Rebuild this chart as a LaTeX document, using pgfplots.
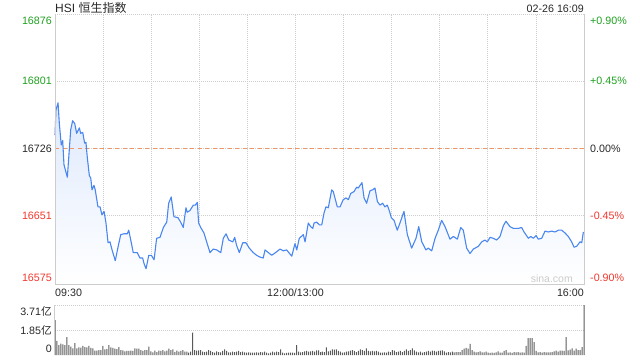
\documentclass[border=0pt]{standalone}
\usepackage{pgfplots}
\pgfplotsset{compat=1.18}
\usepackage{pgfplotstable}
\usepackage{fontspec}
\setmainfont{Liberation Sans}
\newfontfamily\cjk{Noto Sans CJK SC}
\definecolor{upg}{RGB}{30,160,30}
\definecolor{dnr}{RGB}{240,55,45}
\definecolor{txt}{RGB}{40,40,40}
\definecolor{gridc}{RGB}{205,205,205}
\definecolor{axc}{RGB}{205,205,205}
\definecolor{linec}{RGB}{74,134,240}
\definecolor{fillc}{RGB}{222,233,252}
\definecolor{zeroc}{RGB}{240,150,100}
\definecolor{volc}{RGB}{90,90,90}

\pgfplotstableread[row sep=\\]{m p\\
0 16741\\0.6 16769\\1.9 16777\\2.7 16754\\3.9 16730\\4.8 16735\\5.6 16708\\7.7 16694\\9.8 16747\\11.0 16757\\12.3 16754\\13.5 16743\\15.2 16749\\16.0 16743\\17.3 16744\\18.5 16732\\19.3 16733\\20.1 16717\\21.4 16696\\22.3 16693\\23.1 16680\\24.3 16685\\25.1 16680\\26.8 16661\\28.1 16661\\29.3 16652\\30.6 16656\\31.8 16643\\33.1 16621\\34.3 16622\\35.6 16613\\37.6 16601\\39.3 16616\\41.0 16630\\43.0 16631\\45.1 16631\\46.0 16635\\47.6 16621\\48.8 16610\\51.3 16610\\53.0 16604\\54.7 16604\\55.5 16598\\56.8 16592\\58.5 16607\\60.1 16607\\61.8 16602\\63.4 16626\\65.5 16627\\67.6 16638\\69.7 16644\\70.9 16665\\72.5 16672\\74.2 16650\\76.7 16649\\78.4 16644\\80.0 16638\\81.7 16660\\82.5 16655\\84.2 16657\\86.3 16663\\87.5 16663\\88.8 16666\\89.6 16643\\90.9 16638\\92.9 16632\\94.6 16622\\96.7 16610\\98.7 16614\\100.9 16613\\103.4 16610\\105.0 16626\\106.7 16631\\108.4 16624\\110.9 16622\\112.1 16627\\113.3 16618\\115.0 16610\\117.1 16621\\119.1 16621\\121.2 16615\\123.7 16610\\125.8 16607\\127.9 16605\\129.9 16604\\131.0 16613\\133.1 16610\\135.2 16607\\138.3 16611\\140.4 16614\\142.4 16612\\144.5 16613\\147.7 16606\\148.7 16613\\149.7 16620\\150.8 16613\\152.4 16626\\154.9 16630\\156.0 16622\\158.0 16643\\159.5 16639\\160.8 16637\\161.6 16643\\163.2 16644\\164.9 16641\\166.4 16641\\167.8 16654\\169.0 16661\\170.5 16660\\172.6 16680\\173.6 16678\\176.1 16661\\177.8 16661\\179.8 16669\\181.5 16671\\183.0 16669\\184.5 16676\\186.5 16678\\188.2 16683\\189.2 16682\\190.3 16685\\191.5 16688\\192.8 16671\\194.4 16665\\196.5 16679\\198.2 16680\\199.6 16682\\201.1 16667\\202.7 16663\\204.4 16665\\205.8 16661\\207.3 16663\\208.5 16657\\209.8 16649\\211.5 16646\\213.5 16635\\215.2 16643\\217.7 16656\\219.8 16630\\222.5 16615\\225.2 16626\\226.9 16639\\228.8 16622\\231.4 16613\\232.8 16615\\235.0 16612\\237.1 16626\\239.1 16635\\241.2 16646\\243.3 16639\\246.4 16625\\248.5 16628\\251.0 16625\\253.1 16638\\254.7 16635\\256.8 16615\\258.9 16609\\261.0 16614\\264.1 16617\\266.2 16622\\268.2 16624\\269.7 16622\\271.4 16627\\273.4 16626\\275.5 16624\\277.6 16628\\279.7 16640\\281.3 16645\\283.8 16639\\285.9 16637\\289.0 16637\\291.1 16638\\292.6 16633\\295.3 16626\\296.8 16628\\298.4 16626\\300.1 16629\\301.5 16625\\303.6 16626\\305.7 16634\\307.7 16633\\309.8 16634\\311.9 16633\\314.0 16635\\316.1 16635\\318.1 16632\\320.2 16628\\322.3 16622\\323.8 16616\\325.4 16617\\327.5 16622\\328.6 16621\\329.6 16633\\
}\pricetable

\pgfplotstableread[row sep=\\]{v\\
2.59\\1.04\\0.74\\0.84\\0.79\\0.74\\1.33\\0.74\\0.62\\0.49\\0.89\\0.49\\0.57\\0.54\\0.67\\0.59\\0.57\\0.67\\0.52\\0.49\\0.32\\0.32\\0.37\\0.37\\0.67\\0.42\\0.44\\0.74\\0.57\\0.52\\0.47\\0.44\\0.59\\0.37\\0.35\\0.27\\0.30\\0.30\\0.32\\0.30\\0.49\\0.47\\0.47\\0.37\\0.30\\0.37\\0.37\\0.62\\0.27\\0.20\\0.32\\0.22\\0.32\\0.30\\0.37\\0.27\\0.32\\0.47\\0.37\\0.42\\0.22\\0.32\\0.25\\0.30\\0.37\\0.25\\0.25\\
0.17\\0.25\\1.66\\0.37\\0.32\\0.35\\0.37\\0.25\\0.22\\0.25\\0.37\\0.30\\0.22\\0.17\\0.27\\0.22\\0.20\\0.30\\0.42\\0.30\\0.20\\0.20\\0.25\\0.22\\0.25\\0.30\\0.22\\0.25\\0.20\\0.17\\0.20\\0.17\\0.17\\0.17\\0.20\\0.17\\0.22\\0.20\\0.25\\0.17\\0.12\\0.17\\0.25\\0.20\\0.25\\0.22\\0.42\\0.17\\0.12\\0.15\\0.17\\0.17\\0.17\\0.15\\0.74\\0.25\\0.20\\0.22\\0.27\\0.30\\0.25\\0.27\\0.30\\0.25\\0.35\\0.35\\0.22\\0.25\\
0.22\\0.57\\0.27\\0.32\\0.42\\0.40\\0.42\\0.30\\0.25\\0.17\\0.20\\0.25\\0.27\\0.32\\0.37\\0.30\\0.22\\0.30\\0.42\\0.37\\0.30\\0.49\\0.30\\0.27\\0.30\\0.27\\0.30\\0.25\\0.17\\0.17\\0.20\\0.17\\0.25\\0.22\\0.37\\0.32\\0.22\\0.25\\0.30\\0.22\\0.30\\0.42\\0.30\\0.37\\0.49\\0.35\\0.25\\0.20\\0.25\\0.17\\0.22\\0.25\\0.30\\0.25\\0.32\\0.30\\0.25\\0.30\\0.32\\0.35\\0.27\\0.17\\0.22\\0.20\\0.25\\0.20\\0.22\\0.22\\
0.22\\0.37\\0.47\\0.52\\0.47\\0.82\\0.37\\0.25\\0.20\\0.22\\0.27\\0.20\\0.20\\0.25\\0.17\\0.15\\0.17\\0.15\\0.20\\0.27\\0.17\\0.17\\0.30\\0.37\\0.17\\0.20\\0.15\\0.22\\0.20\\0.22\\0.17\\0.20\\0.17\\0.67\\1.26\\1.26\\1.26\\0.96\\0.30\\0.20\\0.22\\0.17\\0.22\\0.20\\0.20\\0.20\\0.22\\0.27\\0.32\\0.25\\0.32\\0.32\\0.30\\1.33\\0.35\\0.40\\0.49\\0.32\\0.47\\0.37\\0.37\\0.59\\3.71\\
}\voltable

\begin{document}
\begin{tikzpicture}
\useasboundingbox (0,0) rectangle (640bp,-360bp);
\tikzset{lab/.style={font=\fontsize{10.7bp}{12bp}\selectfont, inner sep=0pt}}
% title and date
\node[anchor=base west, inner sep=0pt, text=txt, font=\fontsize{12bp}{13bp}\selectfont] at (55bp,-12.5bp) {HSI\ \cjk 恒生指数};
\node[anchor=base east, lab, text=txt] at (584bp,-12bp) {02-26 16:09};

\begin{axis}[
  at={(55bp,-14bp)}, anchor=north west,
  width=529bp, height=270bp, scale only axis,
  xmin=0, xmax=330, ymin=16575, ymax=16876,
  scaled x ticks=false, scaled y ticks=false,
  xtick={0,30,...,330}, ytick={16575,16651,16726,16801,16876},
  xticklabels={}, yticklabels={},
  major tick length=0pt,
  grid=major,
  grid style={gridc, dash pattern=on 1bp off 1bp, line width=0.8bp},
  axis line style={draw=none},
  clip=false,
]
\addplot[draw=none, top color=fillc, bottom color=white, forget plot] table[x=m, y=p] {\pricetable} |- (axis cs:0,16575) -- cycle;
\addplot[zeroc, dash pattern=on 4bp off 3.5bp, line width=0.8bp] coordinates {(0,16726) (330,16726)};
\addplot[linec, line width=1.1bp, line join=round] table[x=m, y=p] {\pricetable};
\draw[axc, line width=1bp] (axis cs:0,16876) -- (axis cs:0,16575) -- (axis cs:330,16575) -- (axis cs:330,16876);
% left labels
\node[lab, anchor=east, text=upg] at (axis cs:0,16876) [xshift=-3bp, yshift=-6.5bp] {16876};
\node[lab, anchor=east, text=upg] at (axis cs:0,16801) [xshift=-3bp] {16801};
\node[lab, anchor=east, text=txt] at (axis cs:0,16726) [xshift=-3bp] {16726};
\node[lab, anchor=east, text=dnr] at (axis cs:0,16651) [xshift=-3bp] {16651};
\node[lab, anchor=east, text=dnr] at (axis cs:0,16575) [xshift=-3bp, yshift=6.5bp] {16575};
% right labels
\node[lab, anchor=west, text=upg] at (axis cs:330,16876) [xshift=6bp, yshift=-6.5bp] {+0.90\%};
\node[lab, anchor=west, text=upg] at (axis cs:330,16801) [xshift=6bp] {+0.45\%};
\node[lab, anchor=west, text=txt] at (axis cs:330,16726) [xshift=6bp] {0.00\%};
\node[lab, anchor=west, text=dnr] at (axis cs:330,16651) [xshift=6bp] {-0.45\%};
\node[lab, anchor=west, text=dnr] at (axis cs:330,16575) [xshift=6bp, yshift=6.5bp] {-0.90\%};
% x labels
\node[lab, anchor=west, text=txt] at (axis cs:0,16575) [yshift=-8.5bp] {09:30};
\node[lab, anchor=center, text=txt] at (axis cs:150,16575) [yshift=-8.5bp] {12:00/13:00};
\node[lab, anchor=east, text=txt] at (axis cs:330,16575) [yshift=-8.5bp] {16:00};
% watermark
\node[inner sep=0pt, anchor=south east, text=black!20, font=\fontsize{10.5bp}{12bp}\selectfont] at (axis cs:330,16575) [xshift=-11bp, yshift=1.5bp] {sina.com};
\end{axis}

\begin{axis}[
  at={(55bp,-305bp)}, anchor=north west,
  width=529bp, height=50bp, scale only axis,
  xmin=0, xmax=265, ymin=0, ymax=3.71,
  scaled x ticks=false, scaled y ticks=false,
  xtick=\empty, ytick={1.85,3.71}, yticklabels={},
  major tick length=0pt,
  ymajorgrids,
  grid style={gridc, dash pattern=on 1bp off 1bp, line width=0.8bp},
  axis line style={draw=none},
  clip=false,
]
\addplot[ybar, bar width=1bp, fill=volc, draw=none] table[x expr=\coordindex, y=v] {\voltable};
\draw[axc, line width=1bp] (axis cs:0,0) -- (axis cs:0,3.71);
\node[lab, anchor=east, text=txt] at (axis cs:0,3.71) [xshift=-3bp, yshift=-6.5bp] {3.71{\cjk 亿}};
\node[lab, anchor=east, text=txt] at (axis cs:0,1.85) [xshift=-3bp] {1.85{\cjk 亿}};
\node[lab, anchor=east, text=txt] at (axis cs:0,0) [xshift=-3bp, yshift=6.5bp] {0};
\end{axis}
\end{tikzpicture}
\end{document}
